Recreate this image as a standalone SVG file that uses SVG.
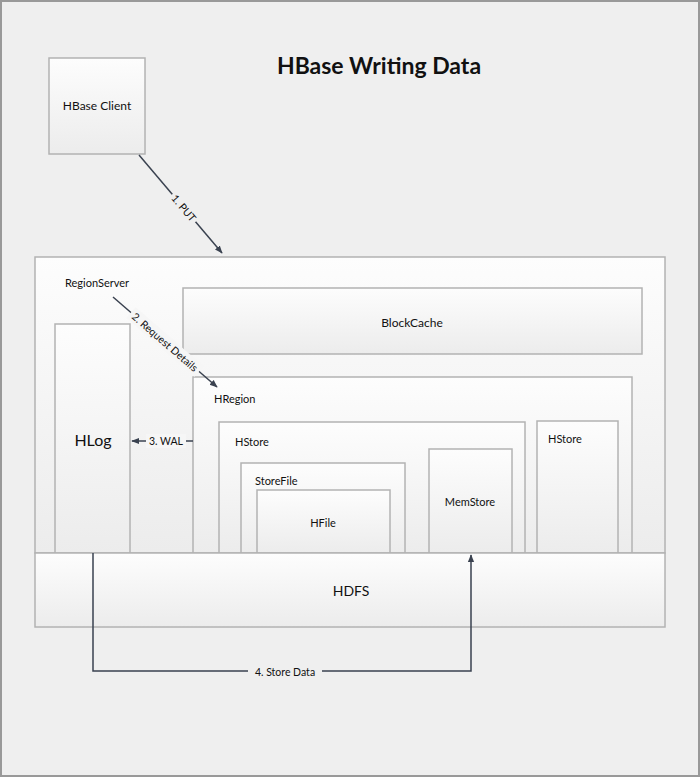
<svg xmlns="http://www.w3.org/2000/svg" width="700" height="777" viewBox="0 0 700 777">
<defs>
<linearGradient id="g" x1="0" y1="0" x2="0" y2="1">
<stop offset="0" stop-color="#fdfdfd"/>
<stop offset="1" stop-color="#ececec"/>
</linearGradient>
<marker id="ah" viewBox="0 0 10 10" refX="9" refY="5" markerWidth="8" markerHeight="8" orient="auto-start-reverse" markerUnits="userSpaceOnUse">
<path d="M0,1 L10,5 L0,9 Z" fill="#3a4250"/>
</marker>
</defs>
<style>
.box{fill:url(#g);stroke:#b3b3b3;stroke-width:1.5}
.t{font-family:"Lato","Liberation Sans",sans-serif;fill:#111;font-size:11px}
.m{text-anchor:middle}
.c{fill:none;stroke:#3a4250;stroke-width:1.5}
.lb{font-family:"Lato","Liberation Sans",sans-serif;fill:#111;font-size:10.5px;text-anchor:middle;dominant-baseline:central}
</style>
<rect x="0" y="0" width="700" height="777" fill="#efefef"/>
<rect x="1" y="1" width="698" height="775" fill="none" stroke="#999" stroke-width="2"/>
<text x="379" y="74" class="t m" style="font-size:23px;font-weight:bold">HBase Writing Data</text>

<g id="client"><rect class="box" x="49" y="58" width="96" height="96"/><text class="t m" x="97" y="110" style="font-size:12px">HBase Client</text></g>
<g id="regionserver"><rect class="box" x="35" y="257" width="630" height="296"/><text class="t" x="65" y="287">RegionServer</text></g>
<g id="blockcache"><rect class="box" x="183" y="288" width="459" height="66"/><text class="t m" x="412" y="327" style="font-size:12px">BlockCache</text></g>
<g id="hlog"><rect class="box" x="55" y="324" width="75" height="229"/><text class="t m" x="93" y="446" style="font-size:16px">HLog</text></g>
<g id="hregion"><rect class="box" x="193" y="377" width="439" height="176"/><text class="t" x="214" y="403">HRegion</text></g>
<g id="hstore1"><rect class="box" x="219" y="422" width="306" height="131"/><text class="t" x="235" y="446">HStore</text></g>
<g id="storefile"><rect class="box" x="241" y="463" width="164" height="90"/><text class="t" x="255" y="485">StoreFile</text></g>
<g id="hfile"><rect class="box" x="257" y="490" width="133" height="63"/><text class="t m" x="323" y="527">HFile</text></g>
<g id="memstore"><rect class="box" x="429" y="449" width="83" height="104"/><text class="t m" x="470" y="506">MemStore</text></g>
<g id="hstore2"><rect class="box" x="537" y="421" width="81" height="132"/><text class="t" x="548" y="443">HStore</text></g>
<g id="hdfs"><rect class="box" x="35" y="553" width="630" height="74"/><text class="t m" x="351" y="596" style="font-size:14px">HDFS</text></g>

<g id="connectors">
<line class="c" x1="139" y1="155" x2="222" y2="253" marker-end="url(#ah)"/>
<rect x="166" y="201" width="36" height="14" fill="#efefef" transform="rotate(49.7 184 208)"/>
<text class="lb" x="184" y="208" transform="rotate(49.7 184 208)">1. PUT</text>

<line class="c" x1="113" y1="297" x2="217" y2="387" marker-end="url(#ah)"/>
<rect x="120" y="335" width="90" height="14" fill="#f6f6f6" transform="rotate(40.9 165 342)"/>
<text class="lb" x="165" y="342" transform="rotate(40.9 165 342)">2. Request Details</text>

<line class="c" x1="193" y1="441" x2="132" y2="441" marker-end="url(#ah)"/>
<rect x="146" y="434" width="40" height="14" fill="#f6f6f6"/>
<text class="lb" x="166" y="441">3. WAL</text>

<polyline class="c" points="93,553 93,671 471,671 471,555" marker-end="url(#ah)"/>
<rect x="248" y="664" width="74" height="14" fill="#efefef"/>
<text class="lb" x="285" y="672">4. Store Data</text>
</g>
</svg>
